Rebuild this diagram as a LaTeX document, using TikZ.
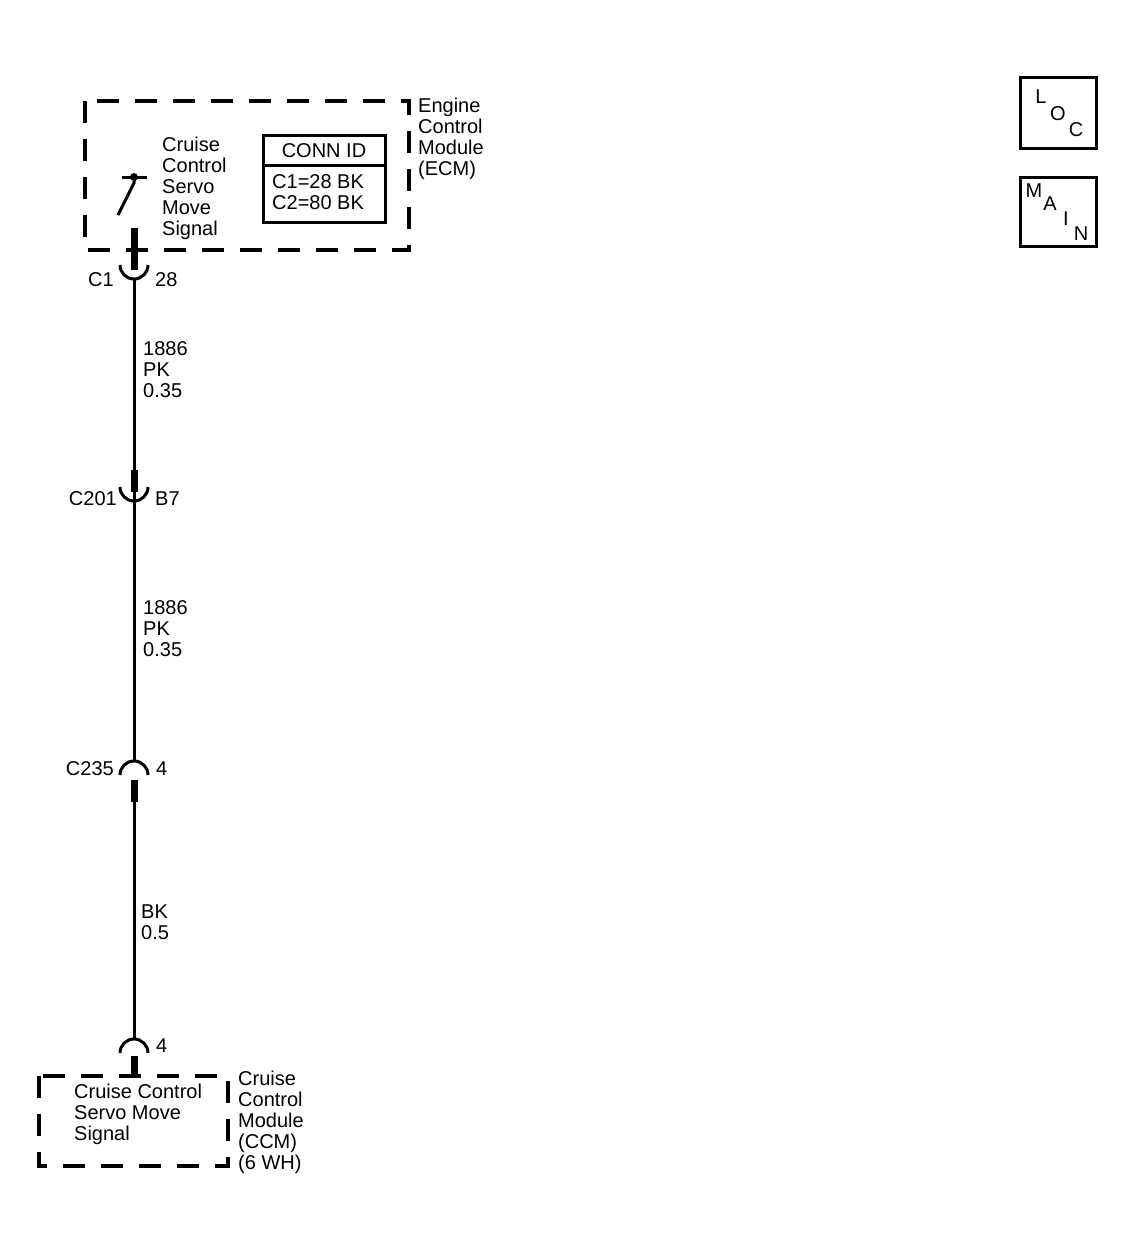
\documentclass[tikz,border=0pt]{standalone}
\usepackage{fontspec}
\setmainfont{Liberation Sans}
\begin{document}
\begin{tikzpicture}[x=1pt,y=-1pt,
  lbl/.style={inner sep=0pt,font=\fontsize{20}{21}\selectfont,align=left},
  dbox/.style={draw,line width=3.5pt,dash pattern=on 22pt off 16pt},
  wire/.style={line width=3pt},
  stub/.style={line width=7pt},
  cup/.style={line width=3pt}]
\useasboundingbox (0,0) rectangle (1135,1251);
% ECM
\draw[dbox] (85,101) rectangle (409,250);
\node[lbl,anchor=north west] (ecm) at (418,98) {Engine\\Control\\Module\\(ECM)};
\node[lbl,anchor=north west] (sig) at (162,137) {Cruise\\Control\\Servo\\Move\\Signal};
\draw[line width=3pt] (263,135) rectangle (385,222);
\draw[line width=3pt] (263,165) -- (385,165);
\node[lbl] (cid) at (324,151) {CONN ID};
\node[lbl,anchor=north west] (cc) at (272,174) {C1=28 BK\\C2=80 BK};
% switch
\draw[line width=3pt] (122,177) -- (147,177);
\fill (134,177) circle (4);
\draw[line width=3pt] (134,177) -- (134,183) -- (118,215);
\coordinate (s0) at (134,228);
\coordinate (c1) at (134,270);
\draw[stub] (s0) -- (c1);
\draw[cup] (120,265) arc (180:0:14);
\node[lbl,anchor=east] (c1l) at (114,280) {C1};
\node[lbl,anchor=west] (c1r) at (155,280) {28};
\coordinate (w1) at (134,279);
\coordinate (w2) at (134,493);
\draw[wire] (w1) -- (w2);
\node[lbl,anchor=north west] (l1) at (143,341) {1886\\PK\\0.35};
% C201
\draw[stub] (134,470) -- (134,492);
\draw[cup] (120,487) arc (180:0:14);
\node[lbl,anchor=east] (c201) at (117,499) {C201};
\node[lbl,anchor=west] (b7) at (155,499) {B7};
\coordinate (w3) at (134,761);
\draw[wire] (w2) -- (w3);
\node[lbl,anchor=north west] (l2) at (143,600) {1886\\PK\\0.35};
% C235
\draw[cup] (120,775) arc (180:360:14);
\draw[stub] (134,780) -- (134,802);
\node[lbl,anchor=east] (c235) at (114,769) {C235};
\node[lbl,anchor=west] (c235r) at (156,769) {4};
\coordinate (w4) at (134,1039);
\draw[wire] (134,800) -- (w4);
\node[lbl,anchor=north west] (l3) at (141,905) {BK\\0.5};
% CCM
\draw[cup] (120,1053) arc (180:360:14);
\draw[stub] (134,1056) -- (134,1076);
\node[lbl,anchor=west] (c4) at (156,1046) {4};
\draw[dbox] (39,1076) rectangle (228,1166);
\node[lbl,anchor=north west] (ccmt) at (74,1084) {Cruise Control\\Servo Move\\Signal};
\node[lbl,anchor=north west] (ccm) at (238,1071) {Cruise\\Control\\Module\\(CCM)\\(6 WH)};
% LOC / MAIN
\draw[line width=3pt] (1020,77) rectangle (1096,148);
\node[lbl] (L) at (1041,97) {L};
\node[lbl] (O) at (1058,114) {O};
\node[lbl] (C) at (1076,130) {C};
\draw[line width=3pt] (1020,177) rectangle (1096,246);
\node[lbl] (M) at (1034,191) {M};
\node[lbl] (A) at (1050,204) {A};
\node[lbl] (I) at (1066,219) {I};
\node[lbl] (N) at (1081,234) {N};
\end{tikzpicture}
\end{document}
